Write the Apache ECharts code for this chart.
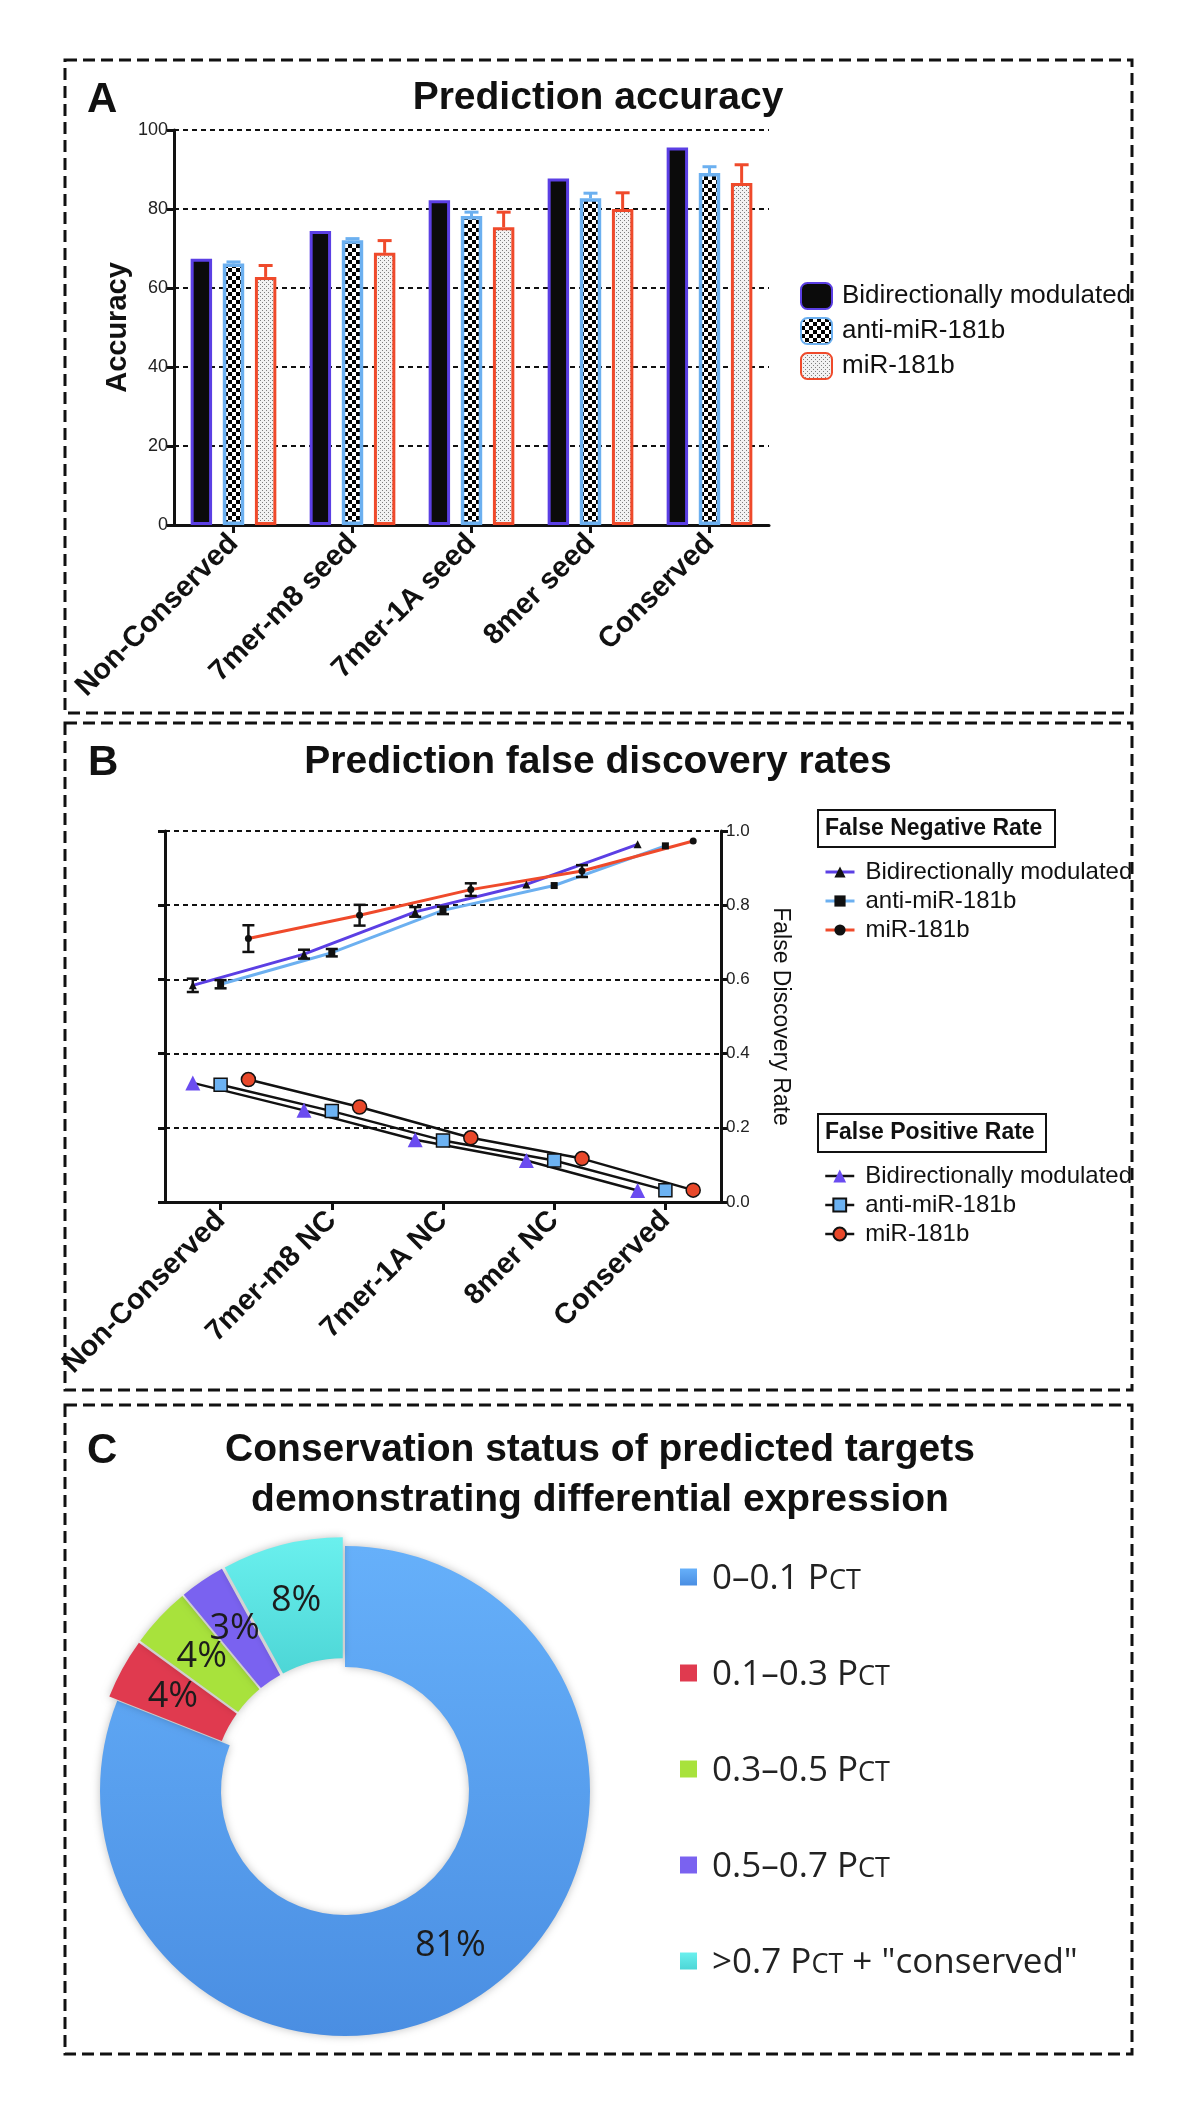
<!DOCTYPE html>
<html><head><meta charset="utf-8">
<script src="https://cdn.jsdelivr.net/npm/echarts@6/dist/echarts.min.js"></script>
<style>html,body{margin:0;padding:0;background:#fff}#c{width:1200px;height:2128px}</style>
</head><body><div id="c"></div>
<script>
// ---------- Panel A data ----------
const catsA = ['Non-Conserved', '7mer-m8 seed', '7mer-1A seed', '8mer seed', 'Conserved'];
const namesA = ['Bidirectionally modulated', 'anti-miR-181b', 'miR-181b'];
const accBidir = [67.4, 74.4, 82.2, 87.7, 95.6];
const accAnti = [66.2, 72.1, 78.2, 82.7, 89.1];
const accAntiErr = [0.4, 0.4, 1.0, 1.3, 1.6];
const accMir = [62.8, 68.9, 75.4, 80.0, 86.6];
const accMirErr = [2.9, 3.1, 3.8, 4.1, 4.6];
const ticksA = [0, 20, 40, 60, 80, 100];

// ---------- Panel B data ----------
const catsB = ['Non-Conserved', '7mer-m8 NC', '7mer-1A NC', '8mer NC', 'Conserved'];
const namesB = ['Bidirectionally modulated', 'anti-miR-181b', 'miR-181b'];
const fnrBidir = [0.584, 0.668, 0.782, 0.856, 0.964];
const fnrBidirErr = [0.018, 0.012, 0.013, 0, 0];
const fnrAnti = [0.587, 0.672, 0.786, 0.853, 0.960];
const fnrAntiErr = [0.011, 0.010, 0.010, 0, 0];
const fnrMir = [0.710, 0.773, 0.842, 0.892, 0.973];
const fnrMirErr = [0.036, 0.028, 0.017, 0.016, 0];
const fprBidir = [0.321, 0.247, 0.168, 0.112, 0.031];
const fprAnti = [0.316, 0.245, 0.166, 0.112, 0.032];
const fprMir = [0.330, 0.256, 0.173, 0.117, 0.032];
const ticksB = [0, 0.2, 0.4, 0.6, 0.8, 1.0];

// ---------- Panel C data ----------
const pieNames = ['0\u20130.1 Pct', '0.1\u20130.3 Pct', '0.3\u20130.5 Pct', '0.5\u20130.7 Pct', '>0.7 Pct + "conserved"'];
const pieValues = [81, 4, 4, 3, 8];

// ---------- styles ----------
const PURPLE = '#5b3fe4', LBLUE = '#6cb0f0', RED = '#ef4a2b';
const offsetsB = [-0.25, 0, 0.25];
const pieColors = [
  {type:'linear', x:0, y:0, x2:0, y2:1, colorStops:[{offset:0, color:'#66b0fa'}, {offset:1, color:'#4a8ee2'}]},
  '#e03a4f', '#a8e23c', '#7a62f0',
  {type:'linear', x:0, y:0, x2:0, y2:1, colorStops:[{offset:0, color:'#6af0ee'}, {offset:1, color:'#4dd6d6'}]}
];
const FONT = '"Liberation Sans", Arial, Helvetica, sans-serif';
const CFONT = '"Open Sans", "Noto Sans", sans-serif';

function makeChecker() {
  const c = document.createElement('canvas'); c.width = 8; c.height = 8;
  const g = c.getContext('2d');
  g.fillStyle = '#fff'; g.fillRect(0, 0, 8, 8);
  g.fillStyle = '#000'; g.fillRect(0, 0, 4, 4); g.fillRect(4, 4, 4, 4);
  return c;
}
function makeDots() {
  const c = document.createElement('canvas'); c.width = 4; c.height = 4;
  const g = c.getContext('2d');
  g.fillStyle = '#f2f2f2'; g.fillRect(0, 0, 4, 4);
  g.fillStyle = '#7e7e7e'; g.fillRect(0, 0, 1, 1); g.fillRect(2, 2, 1, 1);
  return c;
}

function errBarA(k, color) {
  return function (params, api) {
    const i = api.value(0), v = api.value(1), e = api.value(2);
    if (!e) return;
    const band = api.size([1, 0])[0];
    const p0 = api.coord([i, v]), p1 = api.coord([i, v + e]);
    const x = p0[0] + k * 0.27 * band, cw = 7;
    return {type:'group', children:[
      {type:'line', shape:{x1:x, y1:p0[1], x2:x, y2:p1[1]}, style:{stroke:color, lineWidth:3}},
      {type:'line', shape:{x1:x - cw, y1:p1[1], x2:x + cw, y2:p1[1]}, style:{stroke:color, lineWidth:3}}
    ]};
  };
}
function errBarB(params, api) {
  const x = api.value(0), v = api.value(1), e = api.value(2);
  if (!e) return;
  const a = api.coord([x, v - e]), b = api.coord([x, v + e]), cw = 6;
  return {type:'group', children:[
    {type:'line', shape:{x1:a[0], y1:a[1], x2:a[0], y2:b[1]}, style:{stroke:'#111', lineWidth:2.5}},
    {type:'line', shape:{x1:a[0]-cw, y1:a[1], x2:a[0]+cw, y2:a[1]}, style:{stroke:'#111', lineWidth:2.5}},
    {type:'line', shape:{x1:a[0]-cw, y1:b[1], x2:a[0]+cw, y2:b[1]}, style:{stroke:'#111', lineWidth:2.5}}
  ]};
}

const axisLineS = {show:true, onZero:false, lineStyle:{color:'#111', width:3}};
const catLabel = {rotate:45, interval:0, fontSize:29, fontWeight:'bold', color:'#111', fontFamily:FONT, margin:14};
const dotted = {show:true, lineStyle:{color:'#111', width:2, type:[5, 4]}};

const chart = echarts.init(document.getElementById('c'), null, {renderer:'canvas', width:1200, height:2128});

const pfx = s => s.replace(/^(A|FNR|FPR): /, '');
const pctFmt = name => {
  const parts = name.split('Pct');
  return '{n|' + parts[0] + 'P}{s|CT}' + (parts[1] ? '{n|' + parts[1] + '}' : '');
};

const option = {
  animation: false,
  backgroundColor: '#fff',
  grid: [
    {left:174, top:130, width:595, height:395, outerBoundsMode:'none', containLabel:false},
    {left:165, top:831, width:556, height:371, outerBoundsMode:'none', containLabel:false}
  ],
  xAxis: [
    {gridIndex:0, type:'category', data:catsA, axisLine:axisLineS,
     axisTick:{show:true, alignWithLabel:true, length:8, lineStyle:{color:'#111', width:3}},
     axisLabel:catLabel, splitLine:{show:false}},
    {gridIndex:1, type:'category', data:catsB, axisLine:axisLineS,
     axisTick:{show:true, alignWithLabel:true, length:8, lineStyle:{color:'#111', width:3}},
     axisLabel:catLabel, splitLine:{show:false}},
    {gridIndex:1, type:'value', min:-0.5, max:4.5, show:false, axisLine:{show:false, onZero:false}}
  ],
  yAxis: [
    {gridIndex:0, type:'value', min:ticksA[0], max:ticksA[ticksA.length-1], interval:ticksA[1]-ticksA[0],
     axisLine:axisLineS, axisTick:{show:true, length:7, lineStyle:{color:'#111', width:3}},
     axisLabel:{fontSize:18, color:'#222', margin:6, fontFamily:FONT},
     splitLine:dotted,
     name:'Accuracy', nameLocation:'middle', nameGap:42, nameRotate:90,
     nameTextStyle:{fontSize:29, fontWeight:'bold', color:'#111', fontFamily:FONT}},
    {gridIndex:1, type:'value', position:'right', min:ticksB[0], max:ticksB[ticksB.length-1], interval:ticksB[1]-ticksB[0],
     axisLine:axisLineS, axisTick:{show:true, length:7, lineStyle:{color:'#111', width:3}},
     axisLabel:{fontSize:17, color:'#222', margin:5, fontFamily:FONT, formatter:v => v.toFixed(1)},
     splitLine:{show:false},
     name:'False Discovery Rate', nameLocation:'middle', nameGap:48, nameRotate:-90,
     nameTextStyle:{fontSize:23, color:'#111', fontFamily:FONT}},
    {gridIndex:1, type:'value', position:'left', min:ticksB[0], max:ticksB[ticksB.length-1], interval:ticksB[1]-ticksB[0],
     axisLine:axisLineS, axisTick:{show:true, length:7, lineStyle:{color:'#111', width:3}},
     axisLabel:{show:false}, splitLine:dotted}
  ],
  legend: [
    {data:namesA.map(n => 'A: ' + n), formatter:pfx, orient:'vertical', left:795, top:277,
     itemWidth:31, itemHeight:26, itemGap:7, selectedMode:false,
     textStyle:{fontSize:26, lineHeight:26, color:'#111', fontFamily:FONT, padding:[0,0,0,5]}},
    {data:namesB.map(n => 'FNR: ' + n), formatter:pfx, orient:'vertical', left:819, top:855,
     itemWidth:29, itemHeight:14, itemGap:5, selectedMode:false, lineStyle:{width:3},
     textStyle:{fontSize:24, lineHeight:24, color:'#111', fontFamily:FONT, padding:[0,0,0,6]}},
    {data:namesB.map(n => 'FPR: ' + n), formatter:pfx, orient:'vertical', left:819, top:1159,
     itemWidth:29, itemHeight:16, itemGap:5, selectedMode:false, lineStyle:{width:2.5},
     textStyle:{fontSize:24, lineHeight:24, color:'#111', fontFamily:FONT, padding:[0,0,0,6]}},
    {data:pieNames, formatter:pctFmt, orient:'vertical', left:675, top:1557,
     itemWidth:17, itemHeight:17, itemGap:61, selectedMode:false, icon:'rect',
     textStyle:{padding:[0,0,0,10], rich:{
       n:{fontSize:35, lineHeight:40, color:'#222', fontFamily:CFONT, verticalAlign:'bottom'},
       s:{fontSize:27, lineHeight:40, color:'#222', fontFamily:CFONT, verticalAlign:'bottom', padding:[0,0,2,0]}}}}
  ],
  series: [
    // ---- Panel A bars ----
    {name:'A: ' + namesA[0], type:'bar', xAxisIndex:0, yAxisIndex:0, data:accBidir,
     barGap:'50%', barCategoryGap:'28%', itemStyle:{color:'#0b0b0b', borderColor:PURPLE, borderWidth:3}},
    {name:'A: ' + namesA[1], type:'bar', xAxisIndex:0, yAxisIndex:0, data:accAnti,
     barGap:'50%', barCategoryGap:'28%', itemStyle:{color:{image:makeChecker(), repeat:'repeat'}, borderColor:LBLUE, borderWidth:3.5}},
    {name:'A: ' + namesA[2], type:'bar', xAxisIndex:0, yAxisIndex:0, data:accMir,
     barGap:'50%', barCategoryGap:'28%', itemStyle:{color:{image:makeDots(), repeat:'repeat'}, borderColor:RED, borderWidth:3}},
    {name:'errA1', type:'custom', xAxisIndex:0, yAxisIndex:0, renderItem:errBarA(0, LBLUE),
     data:accAnti.map((v, i) => [i, v, accAntiErr[i]]), z:1},
    {name:'errA2', type:'custom', xAxisIndex:0, yAxisIndex:0, renderItem:errBarA(1, RED),
     data:accMir.map((v, i) => [i, v, accMirErr[i]]), z:1},

    // ---- Panel B: false negative rate ----
    {name:'FNR: ' + namesB[0], type:'line', xAxisIndex:2, yAxisIndex:1,
     data:fnrBidir.map((v, i) => [i + offsetsB[0], v]), symbol:'triangle', symbolSize:8,
     itemStyle:{color:'#111'}, lineStyle:{color:PURPLE, width:3}, z:3},
    {name:'FNR: ' + namesB[1], type:'line', xAxisIndex:2, yAxisIndex:1,
     data:fnrAnti.map((v, i) => [i + offsetsB[1], v]), symbol:'rect', symbolSize:7,
     itemStyle:{color:'#111'}, lineStyle:{color:LBLUE, width:3}, z:3},
    {name:'FNR: ' + namesB[2], type:'line', xAxisIndex:2, yAxisIndex:1,
     data:fnrMir.map((v, i) => [i + offsetsB[2], v]), symbol:'circle', symbolSize:7,
     itemStyle:{color:'#111'}, lineStyle:{color:RED, width:3}, z:3},
    {name:'errB1', type:'custom', xAxisIndex:2, yAxisIndex:1, renderItem:errBarB,
     data:fnrBidir.map((v, i) => [i + offsetsB[0], v, fnrBidirErr[i]]), z:4},
    {name:'errB2', type:'custom', xAxisIndex:2, yAxisIndex:1, renderItem:errBarB,
     data:fnrAnti.map((v, i) => [i + offsetsB[1], v, fnrAntiErr[i]]), z:4},
    {name:'errB3', type:'custom', xAxisIndex:2, yAxisIndex:1, renderItem:errBarB,
     data:fnrMir.map((v, i) => [i + offsetsB[2], v, fnrMirErr[i]]), z:4},

    // ---- Panel B: false positive rate ----
    {name:'FPR: ' + namesB[0], type:'line', xAxisIndex:2, yAxisIndex:1,
     data:fprBidir.map((v, i) => [i + offsetsB[0], v]), symbol:'triangle', symbolSize:15,
     itemStyle:{color:'#6a4cf0'}, lineStyle:{color:'#111', width:2.5}, z:3},
    {name:'FPR: ' + namesB[1], type:'line', xAxisIndex:2, yAxisIndex:1,
     data:fprAnti.map((v, i) => [i + offsetsB[1], v]), symbol:'rect', symbolSize:13,
     itemStyle:{color:'#6cb2f2', borderColor:'#111', borderWidth:1.5}, lineStyle:{color:'#111', width:2.5}, z:3},
    {name:'FPR: ' + namesB[2], type:'line', xAxisIndex:2, yAxisIndex:1,
     data:fprMir.map((v, i) => [i + offsetsB[2], v]), symbol:'circle', symbolSize:14,
     itemStyle:{color:'#e8482a', borderColor:'#111', borderWidth:1.5}, lineStyle:{color:'#111', width:2.5}, z:3},

    // ---- Panel C donut ----
    {name:'C', type:'pie', center:[345, 1791], radius:[124, 245], startAngle:90, clockwise:true,
     selectedMode:'multiple', selectedOffset:9, avoidLabelOverlap:false, minShowLabelAngle:0,
     labelLayout:{hideOverlap:false},
     data:pieNames.map((n, i) => ({name:n, value:pieValues[i], selected:i > 0, itemStyle:{color:pieColors[i]}})),
     label:{show:true, position:'inside', formatter:'{c}%', fontSize:36, color:'#1c1c1c', fontFamily:CFONT, textBorderWidth:0},
     labelLine:{show:false}, emphasis:{disabled:true},
     itemStyle:{shadowBlur:8, shadowColor:'rgba(0,0,0,0.25)'}}
  ],
  graphic: [
    {type:'rect', shape:{x:65, y:60, width:1067, height:653}, style:{fill:'none', stroke:'#111', lineWidth:3, lineDash:[12, 6]}},
    {type:'rect', shape:{x:65, y:723, width:1067, height:667}, style:{fill:'none', stroke:'#111', lineWidth:3, lineDash:[12, 6]}},
    {type:'rect', shape:{x:65, y:1405, width:1067, height:649}, style:{fill:'none', stroke:'#111', lineWidth:3, lineDash:[12, 6]}},
    {type:'text', style:{text:'A', x:87, y:100, font:'bold 42px ' + FONT, verticalAlign:'middle', fill:'#111'}},
    {type:'text', style:{text:'B', x:88, y:763, font:'bold 42px ' + FONT, verticalAlign:'middle', fill:'#111'}},
    {type:'text', style:{text:'C', x:87, y:1451, font:'bold 42px ' + FONT, verticalAlign:'middle', fill:'#111'}},
    {type:'text', style:{text:'Prediction accuracy', x:598, y:98, font:'bold 39px ' + FONT, align:'center', verticalAlign:'middle', fill:'#111'}},
    {type:'text', style:{text:'Prediction false discovery rates', x:598, y:762, font:'bold 39px ' + FONT, align:'center', verticalAlign:'middle', fill:'#111'}},
    {type:'text', style:{text:'Conservation status of predicted targets', x:600, y:1450, font:'bold 39px ' + FONT, align:'center', verticalAlign:'middle', fill:'#111'}},
    {type:'text', style:{text:'demonstrating differential expression', x:600, y:1500, font:'bold 39px ' + FONT, align:'center', verticalAlign:'middle', fill:'#111'}},
    {type:'rect', shape:{x:818, y:810, width:237, height:37}, style:{fill:'#fff', stroke:'#111', lineWidth:2}},
    {type:'text', style:{text:'False Negative Rate', x:825, y:829, font:'bold 23px ' + FONT, verticalAlign:'middle', fill:'#111'}},
    {type:'rect', shape:{x:818, y:1114, width:228, height:38}, style:{fill:'#fff', stroke:'#111', lineWidth:2}},
    {type:'text', style:{text:'False Positive Rate', x:825, y:1133, font:'bold 23px ' + FONT, verticalAlign:'middle', fill:'#111'}}
  ]
};
chart.setOption(option);
</script>
</body></html>
